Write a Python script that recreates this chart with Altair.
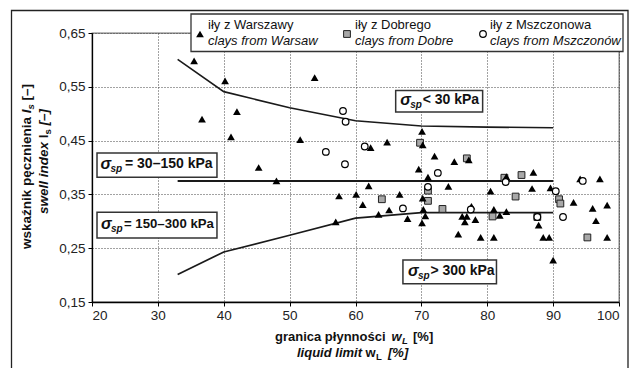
import altair as alt
import pandas as pd

# ---------------- data ----------------
warsaw_x = [35.5, 40.2, 53.8, 36.7, 42.0, 41.1, 51.6, 45.3, 48.0, 57.5, 60.1, 57.0,
            70.1, 64.8, 70.2, 62.3, 72.0, 75.0, 69.6, 71.0, 62.0, 74.1, 66.7, 70.2,
            61.1, 63.5, 65.1, 70.3, 67.9, 70.6, 70.1,
            77.2, 82.9, 87.0, 94.1, 97.1, 80.5, 86.8, 89.6, 93.1, 96.0, 98.2, 96.5,
            98.2, 90.0,
            77.6, 76.2, 76.9, 76.6, 78.2, 81.0, 81.9, 82.9, 87.8, 75.6, 79.0, 81.0,
            88.5, 89.4]
warsaw_y = [0.598, 0.561, 0.567, 0.490, 0.504, 0.457, 0.452, 0.400, 0.375, 0.347, 0.350, 0.299,
            0.467, 0.447, 0.442, 0.437, 0.421, 0.411, 0.397, 0.382, 0.366, 0.365, 0.350, 0.343,
            0.331, 0.313, 0.321, 0.322, 0.305, 0.310, 0.297,
            0.414, 0.383, 0.391, 0.379, 0.379, 0.356, 0.361, 0.362, 0.335, 0.324, 0.330, 0.301,
            0.270, 0.228,
            0.328, 0.309, 0.309, 0.299, 0.303, 0.322, 0.311, 0.318, 0.293, 0.276, 0.270, 0.270,
            0.270, 0.270]

dobre_x = [69.8, 76.9, 71.0, 64.0, 71.0, 73.2, 82.6, 85.2, 84.3, 90.9, 91.1, 87.6, 80.8, 95.2]
dobre_y = [0.446, 0.417, 0.338, 0.341, 0.357, 0.323, 0.381, 0.386, 0.346, 0.341, 0.333, 0.308, 0.309, 0.270]

msz_x = [58.1, 58.5, 55.5, 58.4, 61.4, 72.5, 67.2, 71.0, 82.8, 94.5, 90.4, 91.5, 77.5, 87.6]
msz_y = [0.505, 0.485, 0.429, 0.406, 0.439, 0.390, 0.324, 0.364, 0.373, 0.375, 0.356, 0.308, 0.322, 0.308]

lt30_x = [33, 40, 50, 60, 70, 80, 90]
lt30_y = [0.601, 0.541, 0.511, 0.487, 0.477, 0.475, 0.474]
mid_x = [33, 90]
mid_y = [0.375, 0.375]
hi_x = [33, 40, 50, 60, 70, 80, 90]
hi_y = [0.201, 0.243, 0.274, 0.306, 0.316, 0.316, 0.316]

x_ticks = [20, 30, 40, 50, 60, 70, 80, 90, 100]
y_ticks = [0.15, 0.25, 0.35, 0.45, 0.55, 0.65]

ann_rest = ["< 30 kPa", "= 30–150 kPa", "= 150–300 kPa", "> 300 kPa"]
ann_x1 = [66.1, 20.76, 20.76, 67.2]
ann_x2 = [79.3, 38.97, 38.97, 81.4]
ann_y1 = [0.543, 0.427, 0.317, 0.228]
ann_y2 = [0.503, 0.382, 0.269, 0.184]

legend_l1 = ["iły z Warszawy", "iły z Dobrego", "iły z Mszczonowa"]
legend_l2 = ["clays from Warsaw", "clays from Dobre", "clays from Mszczonów"]

FONT = "Liberation Sans, Arial, sans-serif"
W, H = 527, 269

# ---------------- frames ----------------
pts_w = pd.DataFrame({"x": warsaw_x, "y": warsaw_y})
pts_d = pd.DataFrame({"x": dobre_x, "y": dobre_y})
pts_m = pd.DataFrame({"x": msz_x, "y": msz_y})
curve_lt30 = pd.DataFrame({"x": lt30_x, "y": lt30_y, "s": "lt30"})
curve_mid = pd.DataFrame({"x": mid_x, "y": mid_y, "s": "mid"})
curve_hi = pd.DataFrame({"x": hi_x, "y": hi_y, "s": "hi"})
ann = pd.DataFrame({"x1": ann_x1, "x2": ann_x2, "y1": ann_y1, "y2": ann_y2, "rest": ann_rest})
ann["ym"] = (ann["y1"] + ann["y2"]) / 2

xs = alt.Scale(domain=[20, 100], nice=False, zero=False)
ys = alt.Scale(domain=[0.15, 0.65], nice=False, zero=False)

x_axis = alt.Axis(values=x_ticks, title=None, grid=True, gridDash=[1, 2], gridColor="#444",
                  gridWidth=1, domainColor="black", domainWidth=1.3, tickColor="black",
                  tickSize=4, labelFont=FONT, labelFontSize=13.5, labelColor="#222",
                  labelPadding=2)
y_axis = alt.Axis(values=y_ticks, title=None, grid=True, gridDash=[1, 2], gridColor="#444",
                  gridWidth=1, domainColor="black", domainWidth=1.3, tickColor="black",
                  tickSize=4, labelFont=FONT, labelFontSize=13.5, labelColor="#222",
                  labelPadding=3,
                  labelExpr="replace(format(datum.value, '.2f'), '.', ',')")


def X(f):
    return alt.X(f, type="quantitative", scale=xs, axis=x_axis)


def Y(f):
    return alt.Y(f, type="quantitative", scale=ys, axis=y_axis)


line_lt30 = alt.Chart(curve_lt30).mark_line(color="#1a1a1a", strokeWidth=1.6).encode(x=X("x"), y=Y("y"))
line_mid = alt.Chart(curve_mid).mark_line(color="#1a1a1a", strokeWidth=2.0).encode(x=X("x"), y=Y("y"))
line_hi = alt.Chart(curve_hi).mark_line(color="#1a1a1a", strokeWidth=1.7).encode(x=X("x"), y=Y("y"))

SQ = dict(shape="square", filled=True, fill="#a8a8a8", stroke="#222", strokeWidth=1, size=46, opacity=1)
TR = dict(shape="triangle-up", filled=True, color="black", size=60, opacity=1)
CI = dict(shape="circle", filled=True, fill="white", stroke="black", strokeWidth=1.2, size=44, opacity=1)

sq = alt.Chart(pts_d).mark_point(**SQ).encode(x=X("x"), y=Y("y"))
tri = alt.Chart(pts_w).mark_point(**TR).encode(x=X("x"), y=Y("y"))
circ = alt.Chart(pts_m).mark_point(**CI).encode(x=X("x"), y=Y("y"))

# annotation boxes with sigma_sp labels
sig_dx = [4.5, 3.5, 4.0, 5.0]
rest_dx = [27.0, 28.0, 27.0, 27.5]
rest_fs = [14, 14, 13.2, 14]
ann_layers = []
for i in range(len(ann)):
    row = ann.iloc[[i]]
    ann_layers.append(alt.Chart(row).mark_rect(fill="white", stroke="#333", strokeWidth=1.5).encode(
        x=X("x1"), x2="x2", y=Y("y1"), y2="y2"))
    ann_layers.append(alt.Chart(row).mark_text(
        text="σ", align="left", baseline="middle", dx=sig_dx[i], dy=-1, font=FONT, fontSize=16,
        fontStyle="italic", fontWeight="bold", color="#111").encode(x=X("x1"), y=Y("ym")))
    ann_layers.append(alt.Chart(row).mark_text(
        text="sp", align="left", baseline="middle", dx=sig_dx[i] + 10, dy=4, font=FONT,
        fontSize=10, fontStyle="italic", fontWeight="bold", color="#111").encode(
        x=X("x1"), y=Y("ym")))
    ann_layers.append(alt.Chart(row).mark_text(
        align="left", baseline="middle", dx=rest_dx[i], dy=-1, font=FONT, fontSize=rest_fs[i],
        fontWeight="bold", color="#111").encode(x=X("x1"), y=Y("ym"), text="rest:N"))

# ---------------- decorations in pixel space ----------------
one = alt.Data(values=[{"a": 1}])


def txt(t, px, py, fs, style="normal", weight="normal", angle=0):
    return alt.Chart(one).mark_text(
        text=t, align="left", baseline="alphabetic", font=FONT, fontSize=fs,
        fontStyle=style, fontWeight=weight, angle=angle, color="#111").encode(
        x=alt.value(px), y=alt.value(py))


frame = alt.Chart(one).mark_rect(fill="transparent", stroke="#222", strokeWidth=1.3).encode(
    x=alt.value(-80.5), x2=alt.value(536), y=alt.value(-22.5), y2=alt.value(345))
leg_box = alt.Chart(one).mark_rect(fill="white", stroke="#333", strokeWidth=1.3).encode(
    x=alt.value(99), x2=alt.value(531), y=alt.value(-19), y2=alt.value(18.5))
leg_tri = alt.Chart(one).mark_point(**TR).encode(x=alt.value(108), y=alt.value(1))
leg_sq = alt.Chart(one).mark_point(**SQ).encode(x=alt.value(255), y=alt.value(1))
leg_circ = alt.Chart(one).mark_point(**CI).encode(x=alt.value(391), y=alt.value(1))

leg_x = [116, 263, 398]
leg_texts = []
for i in range(3):
    leg_texts.append(txt(legend_l1[i], leg_x[i], -4.5, 13))
    leg_texts.append(txt(legend_l2[i], leg_x[i], 11.5, 13, style="italic"))

titles = [
    # x title line 1
    txt("granica płynności", 183, 307.5, 13, weight="bold"),
    txt("w", 299.5, 307.5, 13, style="italic", weight="bold"),
    txt("L", 310, 310.5, 9.5, style="italic", weight="bold"),
    txt("[%]", 321, 307.5, 13, weight="bold"),
    # x title line 2
    txt("liquid limit", 205, 323.7, 13, style="italic", weight="bold"),
    txt("w", 273.5, 323.7, 13, weight="bold"),
    txt("L", 284, 326.7, 9.5, weight="bold"),
    txt("[%]", 296, 323.7, 13, style="italic", weight="bold"),
    # y title line 1
    txt("wskaźnik pęcznienia", -61, 216, 13.5, weight="bold", angle=270),
    txt("I", -61, 80.3, 13.5, style="italic", weight="bold", angle=270),
    txt("s", -58, 76.5, 9.5, style="italic", weight="bold", angle=270),
    txt("[–]", -61, 67.5, 13.5, weight="bold", angle=270),
    # y title line 2
    txt("swell index", -44, 181, 13.5, style="italic", weight="bold", angle=270),
    txt("I", -44, 105.3, 13.5, weight="bold", angle=270),
    txt("s", -41, 101.5, 9.5, weight="bold", angle=270),
    txt("[–]", -44, 92.5, 13.5, style="italic", weight="bold", angle=270),
]

chart = alt.layer(
    line_lt30, line_mid, line_hi, sq, tri, circ, *ann_layers,
    frame, leg_box, leg_tri, leg_sq, leg_circ, *leg_texts, *titles,
).properties(
    width=W, height=H,
    background="white",
    autosize=alt.AutoSizeParams(type="none"),
    padding={"left": 92, "top": 33, "right": 22, "bottom": 66},
).configure_view(stroke="#777", strokeWidth=1.3)

chart.save("out.html", embed_options={"renderer": "svg", "actions": False})
